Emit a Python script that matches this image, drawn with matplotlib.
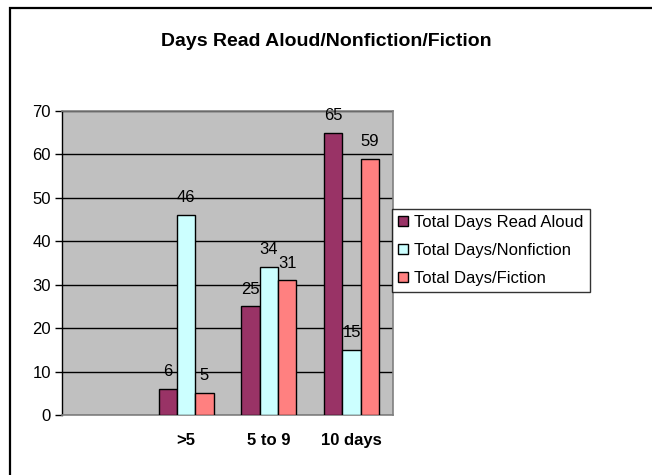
import numpy as np
import matplotlib
matplotlib.use("Agg")
import matplotlib.pyplot as plt
from matplotlib.patches import Rectangle

plt.rcParams["font.family"] = ["Liberation Sans", "DejaVu Sans"]

# datos (la primera categoria esta vacia)
categorias = ["", ">5", "5 to 9", "10 days"]
leido_en_voz_alta = [np.nan, 6, 25, 65]
no_ficcion = [np.nan, 46, 34, 15]
ficcion = [np.nan, 5, 31, 59]
series = ["Total Days Read Aloud", "Total Days/Nonfiction", "Total Days/Fiction"]
colores = ["#993366", "#CCFFFF", "#FF8080"]

fig = plt.figure(figsize=(6.52, 4.75), dpi=100)
ax = fig.add_axes([62 / 652, 1 - 415 / 475, 331 / 652, 304 / 475])
ax.set_facecolor("#C0C0C0")

x = np.arange(len(categorias))
ancho = 0.222
for i, (vals, nombre, color) in enumerate(zip([leido_en_voz_alta, no_ficcion, ficcion], series, colores)):
    ax.bar(x + (i - 1) * ancho, vals, ancho, color=color, edgecolor="black",
           linewidth=1, label=nombre, zorder=3)
    for xi, v in zip(x + (i - 1) * ancho, vals):
        if not np.isnan(v):
            ax.annotate(f"{int(v)}", (xi, v), xytext=(0, 12.5), textcoords="offset points",
                        ha="center", va="center", fontsize=12, zorder=4)

ax.set_xlim(-0.5, len(categorias) - 0.5)
ax.set_ylim(0, 70)
ax.set_yticks(range(0, 71, 10))
ax.yaxis.grid(True, color="black", linewidth=1, zorder=1)
ax.set_xticks(x)
ax.set_xticklabels(categorias, fontsize=12, fontweight="bold")
ax.tick_params(axis="x", length=0, pad=13)
ax.tick_params(axis="y", length=5, width=1, color="black", labelsize=12, pad=3, direction="out")

for lado in ["top", "right", "bottom"]:
    ax.spines[lado].set_color("#808080")
    ax.spines[lado].set_linewidth(1.2)
ax.spines["left"].set_color("black")
ax.spines["left"].set_linewidth(1)

fig.text(0.5, 1 - 41 / 475, "Days Read Aloud/Nonfiction/Fiction", ha="center", va="center",
         fontsize=14, fontweight="bold")

leg = fig.legend(loc="upper left", bbox_to_anchor=(392 / 652, 1 - 209 / 475), borderaxespad=0,
                 fontsize=12, frameon=True, fancybox=False, edgecolor="black",
                 handlelength=0.6, handleheight=0.6, handletextpad=0.4, labelspacing=0.78,
                 borderpad=0.35)
leg.get_frame().set_linewidth(1)

# borde exterior del grafico (solo visible arriba e izquierda)
fig.add_artist(Rectangle((10 / 652, -0.1), 1.0, 1 - 8 / 475 + 0.1, transform=fig.transFigure,
                         fill=False, edgecolor="black", linewidth=1.6))

fig.savefig("out.png", dpi=100)
